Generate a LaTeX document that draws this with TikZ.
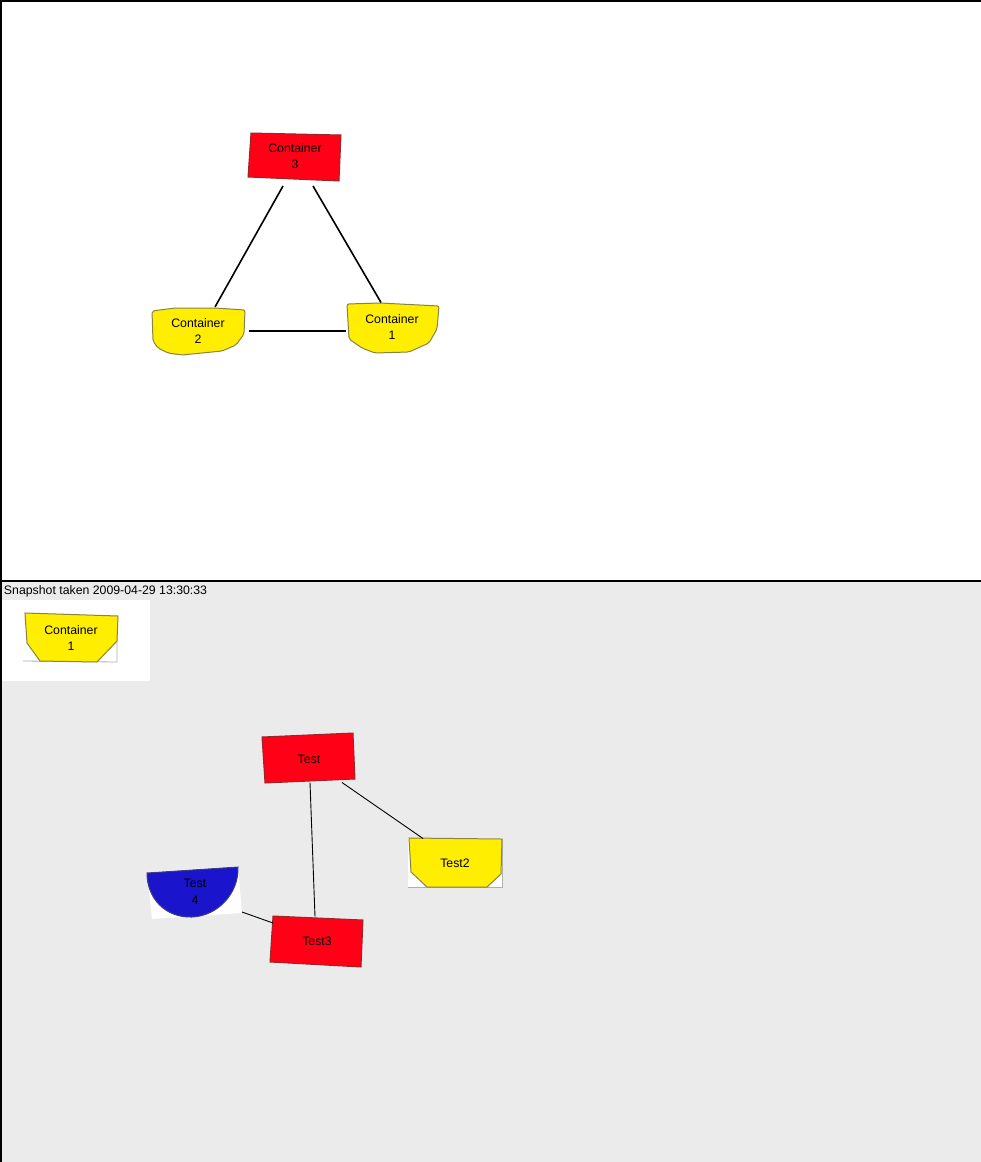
\documentclass[tikz,border=0pt]{standalone}
\usepackage{fontspec}
\setmainfont{Liberation Sans}
\usetikzlibrary{calc}
\definecolor{cred}{RGB}{255,0,22}
\definecolor{credb}{RGB}{150,40,45}
\definecolor{cyel}{RGB}{255,238,0}
\definecolor{cyelb}{RGB}{135,130,70}
\definecolor{cblue}{RGB}{26,20,205}
\definecolor{cblueb}{RGB}{60,60,130}
\definecolor{bggray}{RGB}{235,235,235}
\definecolor{lgray}{RGB}{175,175,175}
\tikzset{
  lbl/.style={inner sep=0pt, outer sep=0pt, align=center, font=\fontsize{12.3}{16.5}\selectfont},
  redshape/.style={fill=cred, draw=credb, line width=1pt},
  yelshape/.style={fill=cyel, draw=cyelb, line width=1pt},
  blueshape/.style={fill=cblue, draw=cblueb, line width=1pt},
  thickconn/.style={line width=1.6pt, black},
  thinconn/.style={line width=0.9pt, black},
}
\begin{document}
\begin{tikzpicture}[x=1pt,y=-1pt]
\useasboundingbox (0,0) rectangle (981,1162);
% backgrounds
\fill[white] (0,0) rectangle (981,581);
\fill[bggray] (0,581) rectangle (981,1162);
% snapshot caption
\node[lbl, anchor=west] (snap) at (4,591) {Snapshot taken 2009-04-29 13:30:33};
\fill[white] (0,600) rectangle (150,681);

% ---------- top shapes ----------
\draw[redshape] (251,133) -- (341,135) -- (339,181) -- (248,177) -- cycle;
\draw[yelshape, rounded corners=2pt] (152,311) -- (175,308) -- (215,308) -- (245,310) -- (244,334) -- (236,345) -- (222,351) -- (182,355) -- (168,353) -- (158,348) -- (153,341) -- cycle;
\draw[yelshape, rounded corners=2pt] (347,304) -- (380,303) -- (439,306) -- (437,329) -- (429,343) -- (409,352) -- (375,353) -- (362,348) -- (349,339) -- cycle;

\node[lbl, minimum width=92pt, minimum height=48pt] (c3) at (295,156) {Container\\3};
\node[lbl, minimum width=93pt, minimum height=46pt] (c2) at (198,331) {Container\\2};
\node[lbl, minimum width=92pt, minimum height=49pt] (c1) at (392,327) {Container\\1};

\draw[thickconn] ($(c3.south)+(-12,6)$) -- ($(c2.north)+(17,-1)$);
\draw[thickconn] ($(c3.south)+(18,6)$) -- ($(c1.north)+(-11,0)$);
\draw[thickconn] ($(c2.east)+(4,0)$) -- ($(c1.west)+(0,4)$);

% ---------- bottom shapes ----------
% small container in snapshot box
\draw[lgray, line width=0.8pt] (23,661) -- (117,662) -- (117,616);
\draw[yelshape] (25,613) -- (118,616) -- (117,641) -- (97,662) -- (40,661) -- (27,643) -- cycle;
\node[lbl, minimum width=92pt, minimum height=48pt] (sc) at (71,638) {Container\\1};

% Test
\draw[redshape] (262,737) -- (353,733) -- (355,779) -- (265,783) -- cycle;
\node[lbl, minimum width=91pt, minimum height=47pt] (t) at (309,759) {Test};

% Test2
\fill[white] (408,838) rectangle (502,887);
\draw[lgray, line width=0.8pt] (408,887) -- (502,887) -- (502,839);
\draw[yelshape] (409,838) -- (502,839) -- (501,874) -- (487,887) -- (427,887) -- (411,872) -- cycle;
\node[lbl, minimum width=92pt, minimum height=49pt] (t2) at (455,863) {Test2};

% Test 4
\fill[white] (147,872) -- (238,866) -- (242,913) -- (152,919) -- cycle;
\draw[blueshape] (147,873) -- (238,867) .. controls (239,893) and (218,916) .. (192,917) .. controls (166,918) and (147,899) .. (147,873) -- cycle;
\node[lbl, minimum width=92pt, minimum height=48pt] (t4) at (195,892) {Test\\4};

% Test3
\draw[redshape] (273,916) -- (363,920) -- (361,967) -- (270,962) -- cycle;
\node[lbl, minimum width=91pt, minimum height=47pt] (t3) at (317,941) {Test3};

\draw[thinconn] ($(t.south)+(1,0)$) -- ($(t3.north)+(-2,-1)$);
\draw[thinconn] ($(t.south)+(33,0)$) -- ($(t2.north)+(-32,0)$);
\draw[thinconn] ($(t4.south east)+(1,-4)$) -- ($(t3.west)+(1.5,-18)$);

% frame lines on top
\draw[line width=1.5pt] (0.75,1162) -- (0.75,0.75) -- (981,0.75);
\draw[line width=1.5pt] (0,581) -- (981,581);
\end{tikzpicture}
\end{document}
